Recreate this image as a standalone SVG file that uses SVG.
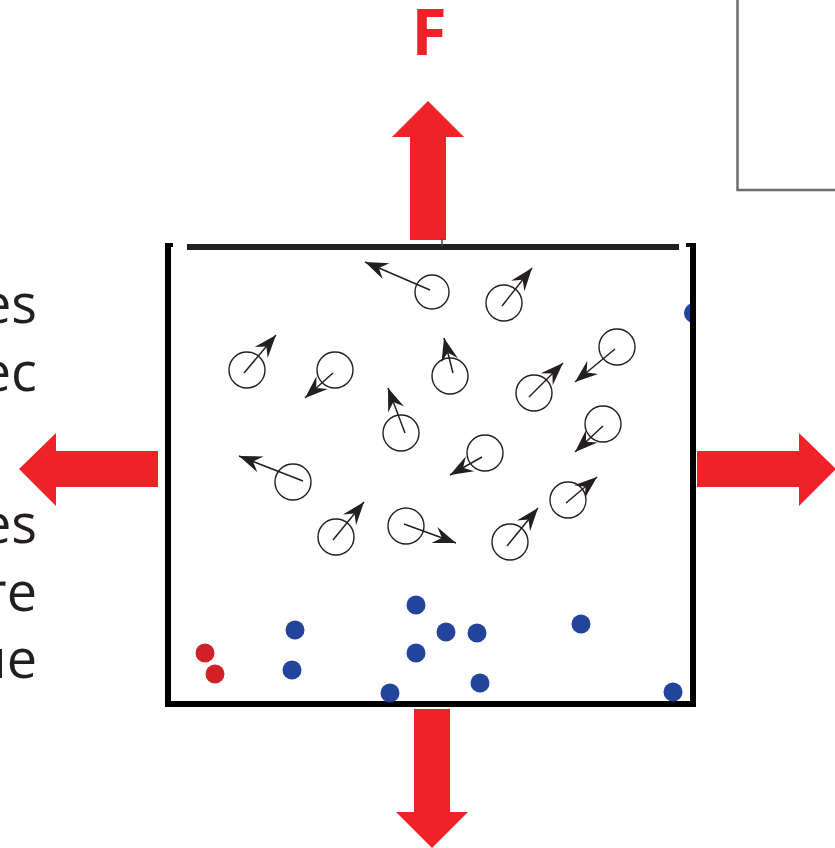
<svg xmlns="http://www.w3.org/2000/svg" width="835" height="848" viewBox="0 0 835 848">
  <style>
    .force { fill: #ee2227; }
    .mol circle { fill: none; stroke: #231f20; stroke-width: 1.4; }
    .mol line { stroke: #231f20; stroke-width: 1.5; marker-end: url(#head); }
    .dot-b { fill: #23449b; }
    .dot-r { fill: #d12028; }
    .side { font-family: "Open Sans", "Liberation Sans", sans-serif; font-size: 54px; fill: #231f20; text-anchor: end; }
  </style>
  <defs>
    <marker id="head" markerUnits="userSpaceOnUse" markerWidth="26" markerHeight="20" viewBox="-24 -10 26 20" refX="0" refY="0" orient="auto">
      <path d="M0,0 L-23,-8.5 L-15,0 L-23,8.5 Z" fill="#231f20"/>
    </marker>
    <clipPath id="inside">
      <rect x="0" y="0" width="690" height="848"/>
    </clipPath>
  </defs>

  <rect width="835" height="848" fill="#ffffff"/>

  <!-- partial text column at the left edge -->
  <g id="side-text">
    <text class="side" x="37" y="323">es</text>
    <text class="side" x="37" y="391">ec</text>
    <text class="side" x="37" y="543">es</text>
    <text class="side" x="37" y="611">re</text>
    <text class="side" x="37" y="678">ue</text>
  </g>

  <!-- framed panel at top right -->
  <g id="panel">
    <path d="M737.5,0 V190 H835" fill="none" stroke="#6d6e71" stroke-width="2.5"/>
  </g>

  <!-- force label -->
  <g id="label-F">
    <text x="429" y="55" font-family="'Open Sans', 'Liberation Sans', sans-serif" font-weight="bold" font-size="64" fill="#ee2227" text-anchor="middle">F</text>
  </g>

  <!-- outward force arrows -->
  <g id="forces">
    <polygon class="force" points="410,240 446,240 446,137 464,137 428,101 392,137 410,137"/>
    <polygon class="force" points="158,451 158,487 56,487 56,506 19,469 56,433 56,451"/>
    <polygon class="force" points="697,451 697,487 799,487 799,506 836,469 799,433 799,451"/>
    <polygon class="force" points="414,709 450,709 450,812 468,812 432,848 396,812 414,812"/>
  </g>

  <!-- particle stuck at the right wall -->
  <g id="edge-particle" clip-path="url(#inside)">
    <circle class="dot-b" cx="694" cy="313" r="10"/>
  </g>

  <!-- container: walls and piston -->
  <g id="container">
    <path d="M168,243 V704 H693 V243" fill="none" stroke="#000000" stroke-width="6"/>
    <line x1="168" y1="245" x2="173" y2="245" stroke="#000" stroke-width="4"/>
    <line x1="686" y1="245" x2="693" y2="245" stroke="#000" stroke-width="4"/>
    <rect x="187" y="244" width="492" height="6" fill="#231f20"/>
    <line x1="442" y1="239" x2="442" y2="246" stroke="#444" stroke-width="1.5"/>
  </g>

  <!-- gas molecules with velocity arrows -->
  <g id="molecules">
    <g id="m1" class="mol"><circle cx="432" cy="292" r="17"/><line x1="430" y1="290" x2="365" y2="262"/></g>
    <g id="m2" class="mol"><circle cx="504" cy="303" r="18"/><line x1="502" y1="306" x2="532" y2="268"/></g>
    <g id="m3" class="mol"><circle cx="247" cy="370" r="18"/><line x1="244" y1="373" x2="276" y2="335"/></g>
    <g id="m4" class="mol"><circle cx="335" cy="370" r="18"/><line x1="333" y1="373" x2="305" y2="398"/></g>
    <g id="m5" class="mol"><circle cx="450" cy="376" r="18"/><line x1="453" y1="373" x2="444" y2="338"/></g>
    <g id="m6" class="mol"><circle cx="534" cy="393" r="18"/><line x1="529" y1="397" x2="563" y2="363"/></g>
    <g id="m7" class="mol"><circle cx="617" cy="347" r="18"/><line x1="615" y1="349" x2="575" y2="382"/></g>
    <g id="m8" class="mol"><circle cx="401" cy="433" r="18"/><line x1="405" y1="433" x2="388" y2="388"/></g>
    <g id="m9" class="mol"><circle cx="603" cy="424" r="18"/><line x1="603" y1="426" x2="575" y2="452"/></g>
    <g id="m10" class="mol"><circle cx="485" cy="453" r="18"/><line x1="482" y1="457" x2="450" y2="475"/></g>
    <g id="m11" class="mol"><circle cx="293" cy="482" r="18"/><line x1="303" y1="481" x2="239" y2="456"/></g>
    <g id="m12" class="mol"><circle cx="568" cy="500" r="18"/><line x1="566" y1="503" x2="597" y2="477"/></g>
    <g id="m13" class="mol"><circle cx="336" cy="537" r="18"/><line x1="333" y1="540" x2="364" y2="502"/></g>
    <g id="m14" class="mol"><circle cx="406" cy="526" r="18"/><line x1="404" y1="524" x2="456" y2="543"/></g>
    <g id="m15" class="mol"><circle cx="510" cy="542" r="18"/><line x1="507" y1="546" x2="538" y2="508"/></g>
  </g>

  <!-- condensed particles near the floor -->
  <g id="particles">
    <circle class="dot-b" cx="416" cy="605" r="9.5"/>
    <circle class="dot-b" cx="295" cy="630" r="9.5"/>
    <circle class="dot-b" cx="446" cy="632" r="9.5"/>
    <circle class="dot-b" cx="477" cy="633" r="9.5"/>
    <circle class="dot-b" cx="581" cy="624" r="9.5"/>
    <circle class="dot-b" cx="416" cy="653" r="9.5"/>
    <circle class="dot-b" cx="292" cy="670" r="9.5"/>
    <circle class="dot-b" cx="480" cy="683" r="9.5"/>
    <circle class="dot-b" cx="390" cy="693" r="9.5"/>
    <circle class="dot-b" cx="673" cy="692" r="9.5"/>
    <circle class="dot-r" cx="205" cy="653" r="9.5"/>
    <circle class="dot-r" cx="215" cy="674" r="9.5"/>
  </g>
</svg>
